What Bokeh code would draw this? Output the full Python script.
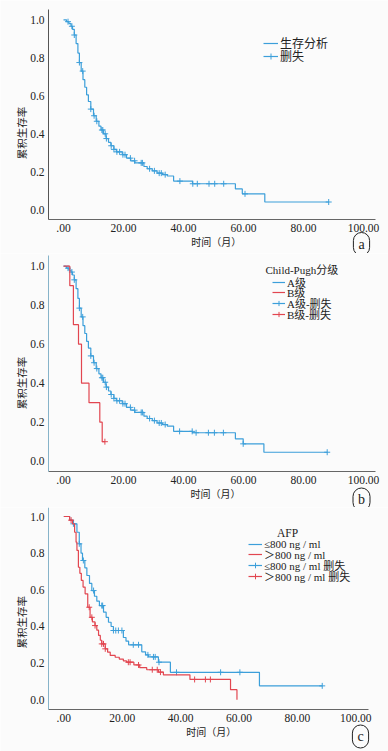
import numpy as np
from bokeh.plotting import figure
from bokeh.models import Range1d, FixedTicker, Label, Legend, LegendItem
from bokeh.layouts import column
from bokeh.embed import file_html
from bokeh.resources import INLINE

# ---------------- data ----------------
x_ticks = [0, 20, 40, 60, 80, 100]
x_tick_labels = [".00", "20.00", "40.00", "60.00", "80.00", "100.00"]
y_ticks = [0.0, 0.2, 0.4, 0.6, 0.8, 1.0]
y_tick_labels = ["0.0", "0.2", "0.4", "0.6", "0.8", "1.0"]

# (a) overall survival
a_time = [1.0, 1.8, 2.5, 3.0, 3.6, 4.2, 4.8, 5.3, 5.9, 6.5, 7.1, 7.7, 8.3, 9.1, 10.0, 10.9, 11.8, 12.5,
          13.3, 14.2, 15.0, 15.8, 16.8, 17.6, 19.6, 21.0, 22.4, 23.8, 26.8, 27.9, 29.6, 31.2, 33.0, 34.6,
          36.7, 43.0, 57.3, 59.6, 67.1]
a_surv = [0.99, 0.98, 0.966, 0.95, 0.92, 0.875, 0.825, 0.775, 0.73, 0.685, 0.645, 0.605, 0.57, 0.53,
          0.495, 0.466, 0.44, 0.42, 0.40, 0.375, 0.355, 0.337, 0.318, 0.305, 0.29, 0.272, 0.258, 0.247,
          0.228, 0.216, 0.205, 0.193, 0.185, 0.178, 0.151, 0.137, 0.11, 0.084, 0.041]
a_end = 88.4
a_cens = [1.5, 2.8, 3.6, 5.3, 6.4, 9.1, 10.2, 11.1, 12.8, 13.1, 13.9, 14.3, 15.9, 16.8, 17.8, 18.7, 19.8,
          20.5, 22.3, 23.7, 25.9, 26.3, 28.7, 30.3, 31.9, 32.6, 33.9, 38.8, 43.1, 44.6, 48.5, 50.4, 53.4,
          60.5, 88.4]

# (b) Child-Pugh A
ba_time = [1.0, 1.8, 2.5, 3.0, 3.6, 4.2, 4.8, 5.3, 5.9, 6.5, 7.1, 7.7, 8.3, 9.1, 10.0, 10.9, 11.8, 12.5,
           13.3, 14.2, 15.0, 15.8, 16.8, 17.6, 19.6, 21.0, 22.4, 23.8, 26.8, 27.9, 29.6, 31.2, 33.0, 34.6,
           36.7, 43.0, 57.3, 59.9, 66.8]
ba_surv = [0.99, 0.98, 0.97, 0.955, 0.93, 0.885, 0.835, 0.785, 0.74, 0.695, 0.655, 0.615, 0.58, 0.54,
           0.505, 0.475, 0.448, 0.428, 0.405, 0.38, 0.36, 0.342, 0.322, 0.31, 0.295, 0.276, 0.262, 0.25,
           0.231, 0.219, 0.208, 0.196, 0.188, 0.18, 0.153, 0.146, 0.115, 0.089, 0.046]
ba_end = 87.9
ba_cens = [1.5, 2.8, 3.6, 5.3, 6.4, 9.1, 10.2, 11.1, 12.8, 13.1, 13.9, 14.3, 15.9, 16.8, 17.8, 18.7, 19.8,
           20.5, 22.3, 23.7, 25.9, 26.3, 28.7, 30.3, 31.9, 32.6, 33.9, 38.7, 42.9, 44.2, 48.3, 50.3, 53.3,
           59.9, 87.9]
# (b) Child-Pugh B
bb_time = [2.1, 3.3, 5.0, 6.0, 8.5, 12.1, 12.9]
bb_surv = [0.9, 0.7, 0.6, 0.4, 0.3, 0.2, 0.1]
bb_end = 13.8
bb_cens = [13.8]

# (c) AFP <= 800
c1_time = [2.0, 3.3, 4.5, 5.3, 5.9, 6.4, 7.2, 7.9, 8.8, 9.6, 10.5, 11.3, 12.2, 13.6, 14.5, 15.3, 16.2,
           17.0, 20.4, 21.3, 22.2, 26.7, 28.0, 29.0, 32.4, 36.5, 67.0]
c1_surv = [0.98, 0.96, 0.914, 0.851, 0.80, 0.76, 0.72, 0.678, 0.635, 0.596, 0.565, 0.538, 0.514, 0.478,
           0.45, 0.423, 0.40, 0.378, 0.34, 0.32, 0.30, 0.262, 0.245, 0.234, 0.205, 0.15, 0.076]
c1_end = 88.5
c1_cens = [3.3, 5.3, 6.7, 10.2, 13.0, 13.3, 17.0, 17.8, 18.7, 19.9, 23.8, 25.6, 28.8, 30.7, 31.3, 32.6,
           38.6, 53.7, 60.3, 88.5]
# (c) AFP > 800
c2_time = [2.0, 3.0, 3.7, 4.2, 4.5, 5.0, 5.5, 6.0, 6.6, 7.3, 8.2, 9.0, 9.8, 10.7, 11.3, 11.9, 12.5, 13.0,
           14.2, 15.0, 15.9, 17.6, 19.0, 20.4, 21.5, 24.0, 26.0, 28.4, 32.4, 34.1, 43.2, 57.1, 59.3]
c2_surv = [0.98, 0.96, 0.914, 0.86, 0.815, 0.723, 0.69, 0.651, 0.615, 0.578, 0.505, 0.45, 0.425, 0.405,
           0.38, 0.351, 0.325, 0.305, 0.278, 0.26, 0.242, 0.232, 0.222, 0.212, 0.205, 0.19, 0.175, 0.164,
           0.151, 0.136, 0.111, 0.055, 0.0]
c2_end = 59.3
c2_cens = [2.5, 8.7, 9.6, 10.7, 13.0, 13.6, 14.2, 22.1, 22.7, 25.6, 30.3, 32.0, 33.1, 44.8, 48.5, 50.2]

# ---------------- styling ----------------
BLUE = "#3c9fda"
RED = "#e24650"
BG = "#fbfbfb"
TXT = "#222222"
SERIF = "Liberation Serif"
CJK = "Noto Sans CJK SC"
MIX = "Liberation Serif, Noto Sans CJK SC"
W = 388


def km_xy(t, s, end):
    x = [0.0] + list(t)
    y = [1.0] + list(s)
    if end > x[-1]:
        x.append(end)
        y.append(y[-1])
    return x, y


def surv_at(t, s, tc):
    t = np.asarray(t)
    s = np.asarray(s)
    idx = np.searchsorted(t, np.asarray(tc), side="right") - 1
    return np.where(idx >= 0, s[np.clip(idx, 0, None)], 1.0)


class Panel:
    """A figure whose frame is the whole canvas; axes sit at fixed locations (page pixel calibration)."""

    def __init__(self, top, height, box, x0, ppm, y0, ppu, yaxis_color):
        L, T, R, B = box
        self.top, self.height = top, height
        self.bottom = top + height
        xr = ((0 - x0) / ppm, (W - x0) / ppm)
        yr = ((y0 - self.bottom) / ppu, (y0 - top) / ppu)
        p = figure(width=W, height=height, output_backend="svg", toolbar_location=None,
                   x_range=Range1d(*xr), y_range=Range1d(*yr), min_border=0)
        p.background_fill_color = BG
        p.border_fill_color = BG
        p.outline_line_color = None
        p.grid.visible = False
        x_lo, x_hi = (L - x0) / ppm, (R - x0) / ppm
        y_lo, y_hi = (y0 - B) / ppu, (y0 - T) / ppu
        p.xaxis.fixed_location = y_lo
        p.xaxis.bounds = (x_lo, x_hi)
        p.yaxis.fixed_location = x_lo
        p.yaxis.bounds = (y_lo, y_hi)
        for ax in (p.xaxis[0], p.yaxis[0]):
            ax.major_tick_line_color = None
            ax.minor_tick_line_color = None
            ax.major_tick_out = 0
            ax.major_tick_in = 0
            ax.major_label_text_font = SERIF
            ax.major_label_text_font_size = "11.5px"
            ax.major_label_text_color = TXT
            ax.major_label_standoff = 4
            ax.axis_line_width = 1
        p.xaxis.ticker = FixedTicker(ticks=x_ticks)
        p.xaxis.major_label_overrides = {t: l for t, l in zip(x_ticks, x_tick_labels)}
        p.yaxis.ticker = FixedTicker(ticks=y_ticks)
        p.yaxis.major_label_overrides = {t: l for t, l in zip(y_ticks, y_tick_labels)}
        p.xaxis.axis_line_color = "#666666"
        p.yaxis.axis_line_color = yaxis_color
        self.p = p

    def label(self, px, py, text, **kw):
        opts = dict(text_font=CJK, text_font_size="10px", text_color=TXT,
                    text_align="center", text_baseline="middle")
        opts.update(kw)
        self.p.add_layout(Label(x=px, y=self.bottom - py, x_units="screen", y_units="screen",
                                text=text, **opts))

    def circle(self, px, py, letter):
        self.label(px, py, letter, text_font=SERIF, text_font_size="14px",
                   border_line_color=TXT, border_line_width=1, border_radius=9, padding=(5, 4))

    def curve(self, t, s, end, cens, color):
        x, y = km_xy(t, s, end)
        r_line = self.p.step(x, y, mode="after", line_color=color, line_width=1.2)
        r_cens = self.p.scatter(cens, surv_at(t, s, cens), marker="cross", size=6,
                                line_color=color, line_width=1)
        return r_line, r_cens

    def legend_row(self, px, cy, text, renderers, glyph_w, font_size):
        leg = Legend(items=[LegendItem(label=text, renderers=renderers)],
                     location=(px, self.bottom - (cy + 10)), orientation="vertical",
                     border_line_color=None, background_fill_alpha=0, padding=0, margin=0,
                     spacing=0, glyph_width=glyph_w, glyph_height=20, label_height=20,
                     label_standoff=2, label_text_font=MIX, label_text_font_size=font_size,
                     label_text_color=TXT)
        self.p.add_layout(leg)


# ---------------- panel a ----------------
A = Panel(0, 253, (48, 9, 375, 219), 63.0, 3.0, 209.3, 190.0, "#555555")
la, ca = A.curve(a_time, a_surv, a_end, a_cens, BLUE)
A.legend_row(263, 43.3, "生存分析", [la], 15, "12px")
A.legend_row(263, 56.3, "删失", [la, ca], 15, "12px")
A.label(20.7, 132.5, "累积生存率", angle=np.pi / 2, text_font_size="10.5px")
A.label(215.8, 240.5, "时间（月）")
A.circle(361, 243.5, "a")

# ---------------- panel b ----------------
Bp = Panel(253, 254, (48, 255, 375, 471), 63.0, 3.0, 460.7, 195.0, "#86b3c9")
lba, cba = Bp.curve(ba_time, ba_surv, ba_end, ba_cens, BLUE)
lbb, cbb = Bp.curve(bb_time, bb_surv, bb_end, bb_cens, RED)
Bp.label(265, 269, "Child-Pugh分级", text_font=MIX, text_font_size="11px", text_align="left")
Bp.legend_row(272, 281.5, "A级", [lba], 13, "11px")
Bp.legend_row(272, 292.0, "B级", [lbb], 13, "11px")
Bp.legend_row(272, 302.7, "A级-删失", [lba, cba], 13, "11px")
Bp.legend_row(272, 313.6, "B级-删失", [lbb, cbb], 13, "11px")
Bp.label(20.7, 382.5, "累积生存率", angle=np.pi / 2, text_font_size="10.5px")
Bp.label(215, 493.3, "时间（月）")
Bp.circle(361, 499, "b")

# ---------------- panel c ----------------
C = Panel(507, 244, (48, 507, 368, 709), 63.3, 2.92, 699.3, 183.3, "#86b3c9")
lc1, cc1 = C.curve(c1_time, c1_surv, c1_end, c1_cens, BLUE)
lc2, cc2 = C.curve(c2_time, c2_surv, c2_end, c2_cens, RED)
C.label(287, 532.5, "AFP", text_font=SERIF, text_font_size="11.5px")
C.legend_row(248, 543.8, "≤800 ng / ml", [lc1], 14, "11px")
C.legend_row(248, 554.4, "＞800 ng / ml", [lc2], 14, "11px")
C.legend_row(248, 565.0, "≤800 ng / ml 删失", [lc1, cc1], 14, "11px")
C.legend_row(248, 575.6, "＞800 ng / ml 删失", [lc2, cc2], 14, "11px")
C.label(20.7, 621.7, "累积生存率", angle=np.pi / 2, text_font_size="10.5px")
C.label(210.8, 731, "时间（月）")
C.circle(360, 736, "c")

layout = column(A.p, Bp.p, C.p, spacing=0)
open("out.html", "w").write(file_html(layout, INLINE))
